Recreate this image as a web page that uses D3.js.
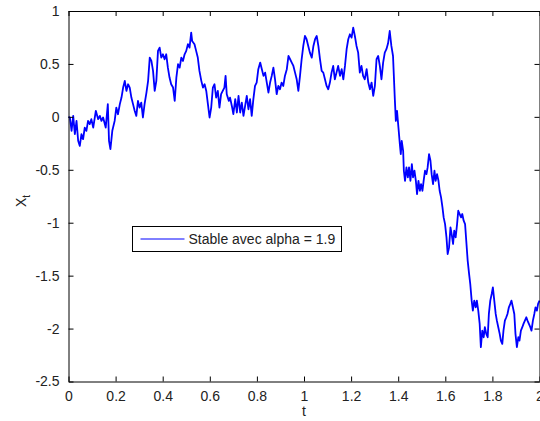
<!DOCTYPE html>
<html>
<head>
<meta charset="utf-8">
<script src="https://cdn.jsdelivr.net/npm/d3@7"></script>
<style>
  body { margin: 0; background: #fff; }
  text { font-family: "Liberation Sans", Arial, sans-serif; }
</style>
</head>
<body>
<div id="chart"></div>
<script>
// temps t
var tValues = [0.000, 0.006, 0.013, 0.020, 0.027, 0.034, 0.041, 0.048, 0.055, 0.062, 0.069, 0.076, 0.083, 0.090, 0.097, 0.105,
  0.116, 0.126, 0.133, 0.140, 0.147, 0.158, 0.167, 0.172, 0.178, 0.186, 0.196, 0.203, 0.210, 0.218, 0.225, 0.232,
  0.239, 0.246, 0.253, 0.260, 0.267, 0.274, 0.281, 0.288, 0.295, 0.302, 0.309, 0.316, 0.323, 0.331, 0.338, 0.345,
  0.352, 0.359, 0.366, 0.373, 0.380, 0.387, 0.394, 0.401, 0.408, 0.415, 0.422, 0.429, 0.436, 0.444, 0.451, 0.458,
  0.465, 0.472, 0.479, 0.486, 0.493, 0.500, 0.507, 0.514, 0.521, 0.525, 0.535, 0.542, 0.549, 0.556, 0.564, 0.571,
  0.578, 0.585, 0.592, 0.599, 0.606, 0.613, 0.620, 0.627, 0.634, 0.641, 0.648, 0.655, 0.662, 0.667, 0.672, 0.681,
  0.686, 0.695, 0.700, 0.708, 0.715, 0.722, 0.729, 0.736, 0.743, 0.750, 0.757, 0.764, 0.771, 0.778, 0.785, 0.792,
  0.799, 0.806, 0.814, 0.821, 0.828, 0.835, 0.842, 0.849, 0.856, 0.863, 0.870, 0.877, 0.884, 0.891, 0.898, 0.905,
  0.912, 0.919, 0.927, 0.934, 0.941, 0.948, 0.955, 0.962, 0.969, 0.976, 0.983, 0.990, 0.997, 1.004, 1.011, 1.018,
  1.025, 1.033, 1.040, 1.047, 1.054, 1.061, 1.068, 1.075, 1.082, 1.089, 1.096, 1.103, 1.110, 1.117, 1.124, 1.131,
  1.138, 1.145, 1.153, 1.160, 1.167, 1.174, 1.181, 1.188, 1.195, 1.202, 1.209, 1.216, 1.223, 1.230, 1.237, 1.244,
  1.251, 1.258, 1.266, 1.273, 1.280, 1.287, 1.294, 1.301, 1.308, 1.315, 1.322, 1.329, 1.336, 1.343, 1.350, 1.357,
  1.364, 1.371, 1.378, 1.386, 1.390, 1.395, 1.401, 1.407, 1.411, 1.415, 1.421, 1.424, 1.429, 1.435, 1.441, 1.446,
  1.452, 1.458, 1.463, 1.469, 1.475, 1.480, 1.486, 1.492, 1.497, 1.503, 1.508, 1.514, 1.520, 1.525, 1.531, 1.537,
  1.542, 1.548, 1.554, 1.559, 1.565, 1.571, 1.576, 1.582, 1.588, 1.593, 1.599, 1.605, 1.610, 1.616, 1.622, 1.627,
  1.633, 1.638, 1.644, 1.650, 1.655, 1.661, 1.667, 1.672, 1.678, 1.684, 1.689, 1.695, 1.701, 1.706, 1.712, 1.717,
  1.723, 1.729, 1.734, 1.740, 1.746, 1.751, 1.757, 1.763, 1.768, 1.774, 1.780, 1.785, 1.791, 1.797, 1.802, 1.808,
  1.814, 1.819, 1.825, 1.831, 1.836, 1.842, 1.847, 1.853, 1.859, 1.864, 1.870, 1.876, 1.881, 1.887, 1.893, 1.898,
  1.904, 1.910, 1.915, 1.921, 1.927, 1.932, 1.938, 1.944, 1.949, 1.955, 1.961, 1.966, 1.972, 1.978, 1.983, 1.989,
  1.994, 2.000];

// valeurs X_t
var xValues = [0.00, -0.006, -0.132, 0.009, -0.164, -0.038, -0.226, -0.274, -0.164, -0.211, -0.101, -0.132, -0.038, -0.069, -0.022, -0.101,
  0.057, -0.022, 0.009, -0.038, -0.006, -0.101, 0.12, -0.226, -0.305, -0.132, -0.038, 0.088, 0.025, 0.12, 0.182, 0.277,
  0.340, 0.245, 0.308, 0.277, 0.182, 0.12, 0.057, 0.009, 0.151, 0.088, 0.135, -0.006, 0.12, 0.229, 0.34, 0.56,
  0.528, 0.434, 0.245, 0.34, 0.623, 0.654, 0.56, 0.591, 0.544, 0.591, 0.465, 0.371, 0.308, 0.277, 0.151, 0.371,
  0.497, 0.465, 0.56, 0.528, 0.591, 0.623, 0.686, 0.654, 0.796, 0.717, 0.686, 0.623, 0.56, 0.434, 0.34, 0.277,
  0.308, 0.245, 0.12, -0.006, 0.088, 0.277, 0.308, 0.182, 0.245, 0.088, 0.214, 0.245, 0.277, 0.387, 0.214, 0.151,
  0.182, 0.088, 0.025, 0.167, 0.041, 0.198, 0.041, 0.135, 0.009, 0.104, 0.198, 0.072, 0.167, 0.009, 0.167, 0.292,
  0.324, 0.45, 0.513, 0.45, 0.387, 0.418, 0.324, 0.23, 0.324, 0.387, 0.465, 0.355, 0.214, 0.292, 0.261, 0.324,
  0.292, 0.387, 0.45, 0.575, 0.544, 0.513, 0.481, 0.418, 0.355, 0.245, 0.387, 0.544, 0.67, 0.764, 0.733, 0.67,
  0.607, 0.56, 0.67, 0.733, 0.764, 0.67, 0.544, 0.434, 0.418, 0.355, 0.292, 0.261, 0.324, 0.418, 0.481, 0.355,
  0.418, 0.481, 0.387, 0.45, 0.355, 0.481, 0.639, 0.733, 0.78, 0.748, 0.843, 0.764, 0.67, 0.607, 0.418, 0.481,
  0.387, 0.355, 0.45, 0.324, 0.261, 0.324, 0.198, 0.292, 0.544, 0.575, 0.481, 0.355, 0.513, 0.607, 0.639, 0.695,
  0.811, 0.67, 0.575, 0.151, -0.038, 0.057, -0.101, -0.258, -0.352, -0.226, -0.321, -0.509, -0.604, -0.478, -0.572, -0.478,
  -0.604, -0.447, -0.572, -0.509, -0.604, -0.730, -0.604, -0.698, -0.635, -0.698, -0.604, -0.509, -0.541, -0.478, -0.352, -0.415,
  -0.541, -0.635, -0.509, -0.604, -0.541, -0.604, -0.698, -0.761, -0.855, -0.950, -1.013, -1.138, -1.296, -1.233, -1.044, -1.107,
  -1.201, -1.075, -1.138, -1.013, -0.887, -0.918, -0.950, -0.918, -0.981, -1.013, -1.170, -1.358, -1.484, -1.579, -1.736, -1.830,
  -1.736, -1.799, -1.736, -1.830, -1.956, -2.176, -2.019, -2.082, -1.987, -2.050, -2.082, -1.862, -1.736, -1.673, -1.610, -1.736,
  -1.862, -1.925, -1.987, -2.050, -2.113, -2.145, -2.019, -1.925, -1.893, -1.862, -1.799, -1.767, -1.736, -1.799, -1.862, -2.050,
  -2.176, -2.082, -2.113, -2.019, -1.987, -1.956, -1.925, -1.893, -1.925, -1.956, -1.987, -2.019, -1.925, -1.862, -1.799, -1.830,
  -1.767, -1.736];

var xTicks = [0, 0.2, 0.4, 0.6, 0.8, 1, 1.2, 1.4, 1.6, 1.8, 2];
var yTicks = [1, 0.5, 0, -0.5, -1, -1.5, -2, -2.5];
var legendLabel = "Stable avec alpha = 1.9";

var w = 540, h = 421;
var plotLeft = 68.5, plotRight = 539.5, plotTop = 11, plotBottom = 381.5;

var svg = d3.select("#chart").append("svg")
  .attr("width", w)
  .attr("height", h);

var xScale = d3.scaleLinear().domain([0, 2]).range([plotLeft, plotRight]);
var yScale = d3.scaleLinear().domain([-2.5, 1]).range([plotBottom, plotTop]);

var data = tValues.map(function(t, i) { return {t: t, x: xValues[i]}; });

var line = d3.line()
  .x(function(d) { return xScale(d.t); })
  .y(function(d) { return yScale(d.x); });

svg.append("path")
  .attr("d", line(data))
  .attr("fill", "none")
  .attr("stroke", "#0000ff")
  .attr("stroke-width", 1.8)
  .attr("stroke-linejoin", "round");

// axes (ticks vers l'intérieur, comme matlab)
var fmt = function(d) { return String(d); };

svg.append("g")
  .attr("transform", "translate(0," + plotBottom + ")")
  .call(d3.axisBottom(xScale).tickValues(xTicks).tickFormat(fmt).tickSizeInner(-5).tickSizeOuter(0).tickPadding(10));

svg.append("g")
  .attr("transform", "translate(0," + plotTop + ")")
  .call(d3.axisTop(xScale).tickValues(xTicks).tickFormat("").tickSizeInner(-5).tickSizeOuter(0));

svg.append("g")
  .attr("transform", "translate(" + plotLeft + ",0)")
  .call(d3.axisLeft(yScale).tickValues(yTicks).tickFormat(fmt).tickSizeInner(-5).tickSizeOuter(0).tickPadding(9));

svg.append("g")
  .attr("transform", "translate(" + plotRight + ",0)")
  .call(d3.axisRight(yScale).tickValues(yTicks).tickFormat("").tickSizeInner(-5).tickSizeOuter(0));

svg.selectAll(".domain").attr("stroke", "#000");
svg.selectAll(".tick line").attr("stroke", "#000");
svg.selectAll(".tick text")
  .attr("font-size", "14px")
  .attr("fill", "#222");

// titres des axes
svg.append("text")
  .attr("x", (plotLeft + plotRight) / 2)
  .attr("y", 416)
  .attr("text-anchor", "middle")
  .attr("font-size", "14px")
  .attr("fill", "#222")
  .text("t");

var ylab = svg.append("text")
  .attr("transform", "translate(26,201) rotate(-90)")
  .attr("text-anchor", "middle")
  .attr("font-size", "14px")
  .attr("fill", "#222");
ylab.append("tspan").text("X");
ylab.append("tspan").attr("font-size", "10px").attr("dy", 4).text("t");

// légende
var lg = svg.append("g").attr("transform", "translate(132.5,226.5)");
lg.append("rect")
  .attr("width", 209)
  .attr("height", 25)
  .attr("fill", "#fff")
  .attr("stroke", "#000");
lg.append("line")
  .attr("x1", 8).attr("x2", 52)
  .attr("y1", 12.5).attr("y2", 12.5)
  .attr("stroke", "#0000ff");
lg.append("text")
  .attr("x", 56)
  .attr("y", 17.5)
  .attr("font-size", "14px")
  .attr("fill", "#222")
  .text(legendLabel);
</script>
</body>
</html>
